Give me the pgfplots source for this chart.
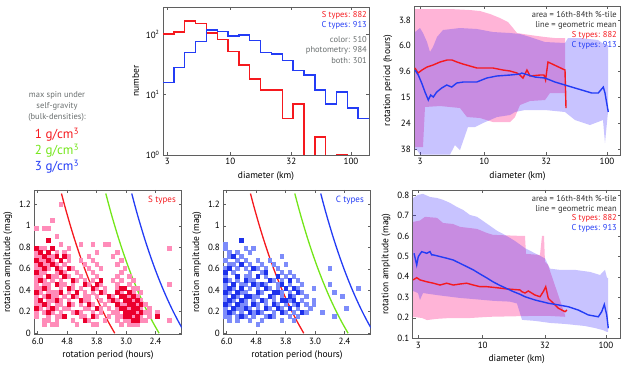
\documentclass[border=0pt]{standalone}
\usepackage{pgfplots}
\pgfplotsset{compat=1.18}
\usepackage{fontspec}
\setmainfont{PT Sans}

\definecolor{cred}{RGB}{245,25,30}
\definecolor{cblue}{RGB}{35,60,245}
\definecolor{cgreen}{RGB}{115,230,25}
\definecolor{spink}{RGB}{255,140,185}
\definecolor{sdark}{RGB}{235,0,45}
\definecolor{clight}{RGB}{125,140,250}
\definecolor{cdark}{RGB}{30,50,235}
\definecolor{pinkf}{RGB}{255,180,215}
\definecolor{bluef}{RGB}{49,30,255}
\definecolor{axgray}{RGB}{95,95,95}
\definecolor{txtgray}{RGB}{105,110,110}

\newcommand\fs{\fontsize{8.5}{10}\selectfont}

\pgfplotsset{
  mat/.style={
    scale only axis, anchor=south west,
    axis line style={axgray, line width=0.6pt},
    tick align=inside, major tick length=3pt, minor tick length=0pt,
    tick style={axgray, line width=0.5pt},
    tick label style={font=\fontsize{9}{10}\selectfont},
    label style={font=\fontsize{9.5}{11}\selectfont},
  },
  sband/.style={draw=none, fill=pinkf},
  cband/.style={draw=none, fill=bluef, fill opacity=0.267},
  sq/.style={only marks, mark=square*, mark size=1.8pt, mark options={line width=0.4pt}},
}

\begin{document}
\begin{tikzpicture}
\useasboundingbox (0pt,0pt) rectangle (627pt,371pt);

% ---------- histogram of diameters
\begin{axis}[mat, at={(163pt,216pt)}, width=206pt, height=148pt,
  xmode=log, ymode=log, xmin=2.764, xmax=141.1, ymin=1, ymax=282,
  xtick={3,10,32,100}, xticklabels={3,10,32,100},
  ytick={1,10,100}, yticklabels={10\textsuperscript{0},10\textsuperscript{1},10\textsuperscript{2}},
  xlabel={diameter (km)}, ylabel={number}]
\addplot[const plot mark left, cred, line width=1.4pt] coordinates {
 (2.764,100) (3.401,108) (4.183,166) (5.144,152) (6.327,104) (7.783,81)
 (9.572,52) (11.77,31) (14.48,18) (17.81,12) (21.91,12) (26.95,4)
 (33.14,7) (40.77,0.3) (50.14,2) (61.68,0.3) (75.86,1) (93.31,0.3)};
\addplot[const plot mark left, cblue, line width=1.4pt] coordinates {
 (2.764,16) (3.401,28) (4.183,50) (5.144,76) (6.327,118) (7.783,111)
 (9.572,94) (11.77,97) (14.48,78) (17.81,50) (21.91,47) (26.95,37)
 (33.14,25) (40.77,21) (50.14,12) (61.68,7) (75.86,11) (93.31,6)
 (114.8,4) (141.1,4)};
\end{axis}

% ---------- rotation period vs diameter
\begin{axis}[mat, at={(414.3pt,216pt)}, width=206.4pt, height=149pt,
  xmode=log, ymode=log, y dir=reverse,
  xmin=2.696, xmax=129.3, ymin=2.96, ymax=42.3,
  xtick={3,10,32,100}, xticklabels={3,10,32,100},
  ytick={3.802,6.026,9.550,15.14,23.99,38.02},
  yticklabels={3.8,6.0,9.6,15,24,38},
  xlabel={diameter (km)}, ylabel={rotation period (hours)}]
\addplot[sband] coordinates {
 (2.732,3.124) (3.618,3.124) (5.265,3.124) (7.661,3.181) (9.242,3.238)
 (11.15,3.415) (13.45,3.668) (15.62,3.939) (17.15,4.385) (18.49,4.795)
 (23.60,4.969) (31.26,5.150) (37.71,5.243) (45.50,5.243)
 (45.50,13.99) (34.33,13.99) (31.26,15.86) (23.60,16.14) (19.56,17.34)
 (17.81,21.48) (16.22,23.49) (11.79,23.49) (9.242,21.86) (7.240,21.48)
 (6.352,18.29) (4.365,17.65) (3.295,17.96) (3.173,36.69) (2.732,36.69)
 (2.732,3.124)};
\addplot[cband] coordinates {
 (2.732,4.710) (3.0,4.385) (3.173,4.795) (3.421,5.630) (3.618,6.730)
 (3.828,6.156) (4.126,5.150) (4.617,4.545) (6.352,4.385) (8.736,4.465)
 (11.79,4.710) (16.22,4.795) (19.56,4.881) (23.60,5.150) (31.26,5.630)
 (45.50,5.732) (48.13,5.243) (60.26,5.243) (84.48,5.433) (96.30,5.940)
 (101.9,5.940)
 (101.9,19.64) (96.30,34.17) (92.75,22.66) (72.70,24.77) (54.86,22.66)
 (45.50,19.64) (31.26,18.95) (21.48,18.95) (17.81,19.64) (16.22,20.72)
 (12.71,21.48) (11.15,22.66) (9.774,23.90) (8.414,25.67) (7.379,25.67)
 (6.352,38.70) (5.783,35.40) (5.265,42.0) (3.618,42.0) (3.0,42.0)
 (2.836,38.70) (2.732,38.70) (2.732,4.710)};
\addplot[cred, line width=1.4pt] coordinates {
 (2.732,8.957) (2.889,9.791) (3.115,9.282) (3.421,8.798) (3.828,8.490)
 (4.365,8.047) (4.977,7.766) (5.467,7.766) (6.003,8.047) (6.720,8.340)
 (7.661,8.643) (8.736,8.957) (9.774,8.957) (11.79,8.957) (14.22,9.282)
 (16.22,9.447) (18.49,9.791) (19.56,10.15) (20.70,10.71) (22.30,9.282)
 (23.60,10.33) (28.47,10.15) (30.68,10.15) (31.6,11.09) (33.07,8.047)
 (45.50,9.282) (46.36,18.29)};
\addplot[cblue, line width=1.4pt] coordinates {
 (2.732,9.282) (2.906,10.15) (3.097,11.71) (3.295,13.75) (3.505,15.86)
 (3.666,14.50) (3.850,15.03) (4.104,13.75) (4.506,12.80) (4.949,12.13)
 (5.436,12.58) (5.970,11.71) (6.755,11.50) (8.686,11.50) (10.48,10.71)
 (12.64,10.33) (16.22,10.15) (19.56,9.968) (20.20,9.791) (22.86,10.15)
 (25.92,10.52) (31.26,10.71) (37.71,11.50) (45.50,12.13) (54.86,12.80)
 (62.22,13.26) (75.05,13.99) (84.92,13.99) (93.29,12.58) (96.30,13.99)
 (102.4,19.64)};
\end{axis}

% ---------- S types: amplitude vs period
\begin{axis}[mat, at={(34.3pt,36.7pt)}, width=147.4pt, height=144.3pt,
  xmode=log, x dir=reverse, xmin=1.955, xmax=6.19, ymin=-0.01, ymax=1.333,
  xtick={6.026,4.786,3.802,3.020,2.399}, xticklabels={6.0,4.8,3.8,3.0,2.4},
  ytick={0,0.2,0.4,0.6,0.8,1,1.2}, yticklabels={0,0.2,0.4,0.6,0.8,1,1.2},
  xlabel={rotation period (hours)}, ylabel={rotation amplitude (mag)}]
\addplot[sq, color=spink] coordinates {
 (5.04,1.200) (5.37,1.051) (6.09,.977) (5.72,.977) (5.54,.977) (5.20,.902)
 (5.04,.828) (4.31,.828) (3.92,.828) (3.57,.828) (3.46,.828)
 (5.90,.791) (5.72,.791) (4.73,.791) (2.16,.791)
 (6.09,.753) (5.20,.753) (4.89,.753) (3.80,.753) (3.24,.753)
 (6.09,.716) (5.90,.716) (5.54,.716) (5.37,.716) (4.73,.716) (4.04,.716) (3.35,.716)
 (5.90,.679) (5.72,.679) (5.37,.679) (4.73,.679) (4.31,.679) (3.92,.679) (3.14,.679)
 (6.09,.642) (5.72,.642) (5.54,.642) (5.20,.642) (4.89,.642) (4.17,.642) (3.80,.642) (3.24,.642)
 (6.09,.605) (5.90,.605) (5.54,.605) (5.04,.605) (4.59,.605) (4.04,.605) (3.68,.605) (3.05,.605)
 (5.90,.567) (5.72,.567) (5.20,.567) (4.89,.567) (4.45,.567) (3.92,.567) (3.14,.567)
 (6.09,.530) (5.90,.530) (5.37,.530) (5.20,.530) (4.73,.530) (4.31,.530) (3.80,.530) (3.24,.530) (2.95,.530)
 (6.09,.493) (5.72,.493) (5.37,.493) (5.04,.493) (4.45,.493) (4.17,.493) (3.92,.493) (3.35,.493) (3.14,.493) (2.86,.493)
 (6.09,.456) (5.72,.456) (5.54,.456) (5.04,.456) (4.89,.456) (4.59,.456) (4.04,.456) (3.68,.456) (3.24,.456) (2.95,.456) (2.16,.456)
 (6.09,.419) (5.90,.419) (5.54,.419) (5.04,.419) (4.59,.419) (4.31,.419) (3.80,.419) (3.57,.419) (3.24,.419) (2.86,.419) (2.77,.419)
 (5.90,.381) (5.54,.381) (5.37,.381) (5.20,.381) (4.73,.381) (4.17,.381) (3.92,.381) (3.57,.381) (3.14,.381) (2.86,.381) (2.69,.381)
 (6.09,.344) (5.72,.344) (5.37,.344) (5.20,.344) (4.89,.344) (4.45,.344) (4.17,.344) (4.04,.344) (3.80,.344) (3.35,.344) (2.95,.344) (2.77,.344)
 (6.09,.307) (5.54,.307) (5.37,.307) (5.04,.307) (4.73,.307) (4.17,.307) (4.04,.307) (3.68,.307) (3.46,.307) (3.24,.307) (2.86,.307) (2.69,.307)
 (6.09,.270) (5.90,.270) (5.54,.270) (5.20,.270) (5.04,.270) (4.59,.270) (4.31,.270) (3.92,.270) (3.57,.270) (3.14,.270) (3.05,.270) (2.77,.270) (2.60,.270)
 (5.90,.233) (5.54,.233) (5.20,.233) (4.89,.233) (4.73,.233) (4.17,.233) (4.04,.233) (3.68,.233) (3.46,.233) (3.24,.233) (2.95,.233) (2.69,.233) (2.52,.233)
 (6.09,.195) (5.72,.195) (5.37,.195) (5.04,.195) (4.59,.195) (4.31,.195) (3.92,.195) (3.68,.195) (3.35,.195) (3.24,.195) (2.77,.195) (2.60,.195) (2.52,.195) (2.37,.195)
 (6.09,.158) (5.54,.158) (5.20,.158) (5.04,.158) (4.31,.158) (4.17,.158) (3.80,.158) (3.46,.158) (3.24,.158) (3.14,.158) (2.86,.158) (2.69,.158) (2.52,.158)
 (5.72,.121) (5.54,.121) (5.20,.121) (4.59,.121) (4.04,.121) (3.57,.121) (3.24,.121) (3.05,.121) (2.95,.121) (2.69,.121) (2.60,.121) (2.16,.121)
 (5.72,.084) (5.37,.084) (5.20,.084) (4.45,.084) (3.92,.084) (3.80,.084) (3.14,.084) (2.95,.084) (2.86,.084) (2.77,.084)};
\addplot[sq, color=sdark] coordinates {
 (5.54,.865) (6.09,.791) (5.37,.791) (5.90,.753) (5.54,.753)
 (5.72,.716) (5.20,.716) (4.89,.716) (6.09,.679) (5.54,.679) (5.04,.679)
 (5.90,.642) (5.37,.642) (5.72,.605) (5.20,.605) (4.73,.605)
 (6.09,.567) (5.04,.567) (5.54,.530) (4.89,.530)
 (5.90,.493) (4.59,.493) (3.68,.493) (5.20,.456) (4.17,.456) (3.80,.456)
 (5.72,.419) (4.73,.419) (3.92,.419) (3.14,.419) (3.05,.419)
 (6.09,.381) (5.04,.381) (4.45,.381) (3.68,.381) (3.24,.381) (2.95,.381)
 (5.54,.344) (4.59,.344) (3.46,.344) (3.14,.344) (3.05,.344) (2.86,.344)
 (5.90,.307) (5.20,.307) (4.31,.307) (3.35,.307) (3.05,.307) (2.95,.307) (2.77,.307)
 (5.72,.270) (4.73,.270) (4.04,.270) (3.24,.270) (2.95,.270) (2.86,.270) (2.69,.270)
 (6.09,.233) (5.37,.233) (3.80,.233) (3.14,.233) (3.05,.233) (2.86,.233) (2.77,.233)
 (5.54,.195) (4.45,.195) (3.05,.195) (2.95,.195) (2.86,.195) (2.69,.195)
 (4.89,.158) (3.92,.158) (3.05,.158) (2.95,.158) (2.77,.158) (2.37,.158)
 (4.17,.121) (2.86,.121) (2.77,.121)};
\addplot[cred, line width=1.3pt, smooth] coordinates {
 (3.300,0) (3.461,0.1) (3.615,0.2) (3.763,0.3) (3.905,0.4) (4.042,0.5) (4.174,0.6)
 (4.303,0.7) (4.427,0.8) (4.549,0.9) (4.667,1.0) (4.782,1.1) (4.895,1.2) (5.005,1.3)};
\addplot[cgreen, line width=1.3pt, smooth] coordinates {
 (2.333,0) (2.447,0.1) (2.556,0.2) (2.661,0.3) (2.761,0.4) (2.858,0.5) (2.952,0.6)
 (3.043,0.7) (3.131,0.8) (3.217,0.9) (3.300,1.0) (3.382,1.1) (3.461,1.2) (3.539,1.3)};
\addplot[cblue, line width=1.3pt, smooth] coordinates {
 (1.905,0) (1.998,0.1) (2.087,0.2) (2.172,0.3) (2.254,0.4) (2.333,0.5) (2.410,0.6)
 (2.484,0.7) (2.556,0.8) (2.626,0.9) (2.694,1.0) (2.761,1.1) (2.826,1.2) (2.889,1.3)};
\end{axis}

% ---------- C types: amplitude vs period
\begin{axis}[mat, at={(223.3pt,36.7pt)}, width=147.4pt, height=144.3pt,
  xmode=log, x dir=reverse, xmin=1.955, xmax=6.19, ymin=-0.01, ymax=1.333,
  xtick={6.026,4.786,3.802,3.020,2.399}, xticklabels={6.0,4.8,3.8,3.0,2.4},
  ytick={0,0.2,0.4,0.6,0.8,1,1.2}, yticklabels={0,0.2,0.4,0.6,0.8,1,1.2},
  xlabel={rotation period (hours)}, ylabel={rotation amplitude (mag)}]
\addplot[sq, color=clight] coordinates {
 (6.09,.828) (6.09,.791) (5.20,.791) (4.89,.791)
 (5.90,.753) (5.54,.753) (5.04,.753) (5.90,.716) (5.37,.716) (3.92,.716)
 (6.09,.679) (5.54,.679) (5.20,.679) (4.73,.679) (4.31,.679)
 (5.90,.642) (5.72,.642) (5.04,.642) (4.59,.642) (4.17,.642) (3.80,.642)
 (6.09,.605) (5.54,.605) (5.20,.605) (4.73,.605) (4.45,.605) (4.04,.605) (2.69,.605)
 (5.72,.567) (5.04,.567) (4.59,.567) (3.92,.567) (3.68,.567)
 (6.09,.530) (5.20,.530) (5.04,.530) (4.45,.530) (3.80,.530) (3.57,.530)
 (5.90,.493) (5.54,.493) (5.04,.493) (4.89,.493) (4.17,.493) (3.92,.493) (3.46,.493)
 (6.09,.456) (5.37,.456) (5.20,.456) (4.73,.456) (4.45,.456) (4.04,.456) (3.68,.456) (3.35,.456) (2.69,.456)
 (6.09,.419) (5.72,.419) (5.04,.419) (4.73,.419) (4.31,.419) (4.04,.419) (3.46,.419) (3.05,.419) (2.16,.419)
 (5.90,.381) (5.37,.381) (5.20,.381) (4.59,.381) (3.92,.381) (3.68,.381) (3.35,.381) (2.60,.381)
 (6.09,.344) (5.54,.344) (4.89,.344) (4.73,.344) (4.17,.344) (3.92,.344) (3.57,.344) (3.24,.344) (2.44,.344)
 (6.09,.307) (5.72,.307) (5.20,.307) (4.89,.307) (4.45,.307) (4.17,.307) (3.68,.307) (3.35,.307) (3.05,.307)
 (5.90,.270) (5.37,.270) (5.20,.270) (4.73,.270) (4.45,.270) (4.04,.270) (3.80,.270) (3.57,.270) (3.24,.270) (3.05,.270)
 (6.09,.233) (5.54,.233) (5.37,.233) (5.04,.233) (4.73,.233) (4.31,.233) (3.92,.233) (3.46,.233) (3.14,.233) (2.37,.233)
 (6.09,.195) (5.72,.195) (5.37,.195) (4.89,.195) (4.59,.195) (4.17,.195) (3.80,.195) (3.57,.195) (3.24,.195) (2.86,.195)
 (6.09,.158) (5.90,.158) (5.54,.158) (5.20,.158) (4.89,.158) (4.45,.158) (4.17,.158) (3.68,.158) (3.46,.158) (2.60,.158)
 (5.90,.121) (5.54,.121) (5.04,.121) (4.59,.121) (3.92,.121) (3.57,.121) (4.73,.084)};
\addplot[sq, color=cdark] coordinates {
 (5.37,.865) (5.72,.716) (5.37,.642) (5.90,.605) (4.89,.605)
 (6.09,.567) (4.45,.567) (5.54,.530) (4.73,.530) (4.04,.530)
 (6.09,.493) (5.20,.493) (4.31,.493) (3.68,.493)
 (5.72,.456) (4.89,.456) (4.59,.456) (3.92,.456)
 (5.90,.419) (5.37,.419) (4.45,.419) (3.80,.419) (3.57,.419)
 (6.09,.381) (5.54,.381) (4.73,.381) (4.17,.381) (4.04,.381) (3.46,.381)
 (5.72,.344) (5.20,.344) (5.04,.344) (4.31,.344) (3.68,.344)
 (5.90,.307) (5.37,.307) (4.59,.307) (3.92,.307) (3.80,.307) (3.57,.307)
 (6.09,.270) (5.54,.270) (4.89,.270) (4.17,.270) (3.46,.270)
 (5.72,.233) (5.20,.233) (4.45,.233) (4.04,.233) (3.68,.233)
 (5.90,.195) (5.04,.195) (4.73,.195) (3.92,.195) (3.35,.195)
 (5.37,.158) (4.31,.158)};
\addplot[cred, line width=1.3pt, smooth] coordinates {
 (3.300,0) (3.461,0.1) (3.615,0.2) (3.763,0.3) (3.905,0.4) (4.042,0.5) (4.174,0.6)
 (4.303,0.7) (4.427,0.8) (4.549,0.9) (4.667,1.0) (4.782,1.1) (4.895,1.2) (5.005,1.3)};
\addplot[cgreen, line width=1.3pt, smooth] coordinates {
 (2.333,0) (2.447,0.1) (2.556,0.2) (2.661,0.3) (2.761,0.4) (2.858,0.5) (2.952,0.6)
 (3.043,0.7) (3.131,0.8) (3.217,0.9) (3.300,1.0) (3.382,1.1) (3.461,1.2) (3.539,1.3)};
\addplot[cblue, line width=1.3pt, smooth] coordinates {
 (1.905,0) (1.998,0.1) (2.087,0.2) (2.172,0.3) (2.254,0.4) (2.333,0.5) (2.410,0.6)
 (2.484,0.7) (2.556,0.8) (2.626,0.9) (2.694,1.0) (2.761,1.1) (2.826,1.2) (2.889,1.3)};
\end{axis}

% ---------- amplitude vs diameter
\begin{axis}[mat, at={(412.7pt,32.7pt)}, width=208pt, height=148.3pt,
  xmode=log, xmin=2.702, xmax=131.8, ymin=0.1, ymax=0.824,
  xtick={3,10,32,100}, xticklabels={3,10,32,100},
  ytick={0.1,0.2,0.3,0.4,0.5,0.6,0.7,0.8},
  yticklabels={0.1,0.2,0.3,0.4,0.5,0.6,0.7,0.8},
  xlabel={diameter (km)}, ylabel={rotation amplitude (mag)}]
\addplot[sband] coordinates {
 (2.718,0.668) (3.097,0.675) (3.401,0.693) (4.256,0.688) (4.761,0.663)
 (5.739,0.658) (6.541,0.644) (8.987,0.634) (10.83,0.614) (12.12,0.605)
 (20.07,0.600) (22.03,0.600) (22.45,0.512) (29.17,0.507) (30.28,0.600)
 (31.43,0.600) (32.02,0.473) (33.87,0.458) (46.54,0.214)
 (46.54,0.205) (35.16,0.209) (24.20,0.209) (16.65,0.207) (11.46,0.205)
 (7.885,0.199) (5.425,0.199) (4.256,0.195) (3.530,0.189) (3.214,0.199)
 (2.718,0.205) (2.718,0.668)};
\addplot[cband] coordinates {
 (2.718,0.785) (2.983,0.800) (3.275,0.805) (3.733,0.790) (4.256,0.785)
 (4.761,0.776) (5.425,0.761) (6.184,0.741) (6.918,0.727) (7.885,0.702)
 (8.987,0.693) (10.05,0.673) (11.46,0.649) (13.06,0.625) (14.61,0.610)
 (16.65,0.590) (18.28,0.575) (22.03,0.540) (26.57,0.515) (32.02,0.490)
 (35.16,0.440) (42.39,0.434) (56.10,0.434) (74.29,0.424) (89.54,0.409)
 (98.29,0.434) (102.0,0.395) (104.0,0.395)
 (104.0,0.131) (102.0,0.131) (94.70,0.140) (81.57,0.150) (67.65,0.160)
 (56.10,0.165) (46.54,0.170) (35.16,0.175) (26.57,0.185) (20.84,0.190)
 (18.98,0.270) (16.65,0.279) (12.12,0.283) (8.987,0.290) (6.541,0.297)
 (5.425,0.303) (4.256,0.311) (3.275,0.321) (3.097,0.287) (2.983,0.321)
 (2.718,0.331) (2.718,0.785)};
\addplot[cred, line width=1.4pt] coordinates {
 (2.725,0.385) (2.912,0.396) (3.097,0.385) (3.511,0.376) (3.971,0.369)
 (4.500,0.360) (5.101,0.369) (5.771,0.360) (6.541,0.365) (7.413,0.369)
 (8.385,0.360) (9.504,0.352) (10.77,0.352) (12.99,0.347) (15.65,0.341)
 (20.07,0.336) (20.72,0.328) (22.03,0.321) (23.44,0.331) (26.57,0.311)
 (29.17,0.303) (31.03,0.328) (32.45,0.352) (34.07,0.295) (37.41,0.271)
 (41.07,0.247) (46.54,0.230) (48.3,0.238)};
\addplot[cblue, line width=1.4pt] coordinates {
 (2.770,0.515) (2.912,0.458) (3.0,0.499) (3.196,0.523) (3.511,0.515)
 (3.733,0.523) (3.854,0.507) (3.971,0.507) (4.500,0.499) (5.101,0.491)
 (5.771,0.482) (6.541,0.466) (7.413,0.450) (8.385,0.434) (9.504,0.414)
 (10.77,0.395) (12.18,0.375) (13.81,0.358) (15.65,0.343) (17.71,0.328)
 (20.07,0.315) (22.03,0.303) (26.57,0.287) (34.07,0.271) (41.07,0.263)
 (49.51,0.254) (59.67,0.238) (71.94,0.214) (86.74,0.205) (92.44,0.230)
 (97.01,0.265) (101.5,0.214) (104.5,0.149)};
\end{axis}

% ---------- annotations
\node[anchor=east, text=cred, font=\fs, inner sep=0] at (367pt,356pt) {S types: 882};
\node[anchor=east, text=cblue, font=\fs, inner sep=0] at (367pt,346pt) {C types: 913};
\node[anchor=east, text=txtgray, font=\fs, inner sep=0] at (367pt,331pt) {color: 510};
\node[anchor=east, text=txtgray, font=\fs, inner sep=0] at (367pt,320.3pt) {photometry: 984};
\node[anchor=east, text=txtgray, font=\fs, inner sep=0] at (367pt,310pt) {both: 301};

\node[anchor=east, text=black!80, font=\fs, inner sep=0] at (617pt,356pt) {area = 16th-84th \%-tile};
\node[anchor=east, text=black!80, font=\fs, inner sep=0] at (617pt,346pt) {line = geometric mean};
\node[anchor=east, text=cred, font=\fs, inner sep=0] at (617pt,336pt) {S types: 882};
\node[anchor=east, text=cblue, font=\fs, inner sep=0] at (617pt,326pt) {C types: 913};

\node[anchor=east, text=black!80, font=\fs, inner sep=0] at (617pt,172pt) {area = 16th-84th \%-tile};
\node[anchor=east, text=black!80, font=\fs, inner sep=0] at (617pt,162pt) {line = geometric mean};
\node[anchor=east, text=cred, font=\fs, inner sep=0] at (617pt,152.7pt) {S types: 882};
\node[anchor=east, text=cblue, font=\fs, inner sep=0] at (617pt,142.7pt) {C types: 913};

\node[anchor=east, text=cred, font=\fontsize{9}{10}\selectfont, inner sep=0] at (176pt,171pt) {S types};
\node[anchor=east, text=cblue, font=\fontsize{9}{10}\selectfont, inner sep=0] at (364pt,170.3pt) {C types};

\node[align=center, text=txtgray, font=\fontsize{8.5}{11}\selectfont] at (57pt,265pt) {max spin under\\self-gravity\\(bulk-densities):};
\node[text=cred, font=\fontsize{13}{14}\selectfont] at (57pt,236pt) {1 g/cm\textsuperscript{3}};
\node[text=cgreen, font=\fontsize{13}{14}\selectfont] at (57pt,220.5pt) {2 g/cm\textsuperscript{3}};
\node[text=cblue, font=\fontsize{13}{14}\selectfont] at (57pt,204pt) {3 g/cm\textsuperscript{3}};
\end{tikzpicture}
\end{document}
